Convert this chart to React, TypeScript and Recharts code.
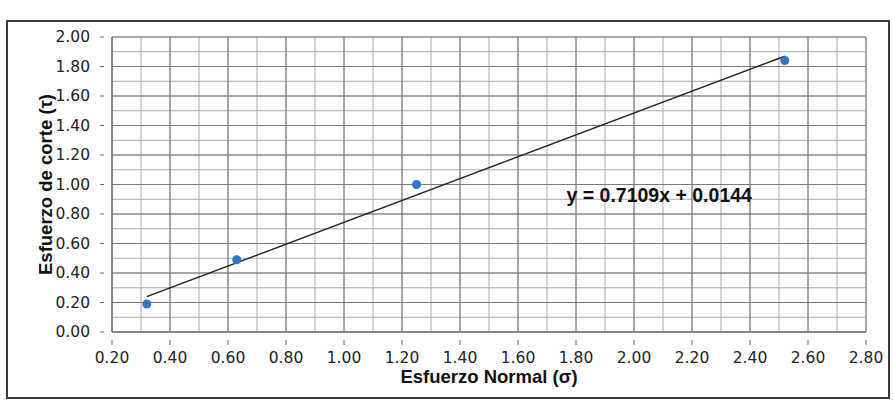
import {
  ScatterChart,
  Scatter,
  XAxis,
  YAxis,
  CartesianGrid,
  ReferenceDot,
  ReferenceLine,
  Label,
} from "recharts";

/* ---------- DATA ---------- */
const sigma = [0.32, 0.63, 1.25, 2.52];
const tau = [0.19, 0.49, 1.0, 1.84];

// trendline end points
const trendX = [0.32, 2.52];
const trendY = [0.24, 1.87];

const majorXTicks = [0.2, 0.4, 0.6, 0.8, 1.0, 1.2, 1.4, 1.6, 1.8, 2.0, 2.2, 2.4, 2.6, 2.8];
const minorXTicks = [
  0.2, 0.3, 0.4, 0.5, 0.6, 0.7, 0.8, 0.9, 1.0, 1.1, 1.2, 1.3, 1.4, 1.5, 1.6, 1.7, 1.8, 1.9,
  2.0, 2.1, 2.2, 2.3, 2.4, 2.5, 2.6, 2.7, 2.8,
];
const majorYTicks = [0, 0.2, 0.4, 0.6, 0.8, 1.0, 1.2, 1.4, 1.6, 1.8, 2.0];
const minorYTicks = [
  0, 0.1, 0.2, 0.3, 0.4, 0.5, 0.6, 0.7, 0.8, 0.9, 1.0, 1.1, 1.2, 1.3, 1.4, 1.5, 1.6, 1.7, 1.8,
  1.9, 2.0,
];

const equation = "y = 0.7109x + 0.0144";
const equationAt = { x: 1.75, y: 0.93 };

const points = sigma.map((x, i) => ({ x, y: tau[i] }));
const trend = trendX.map((x, i) => ({ x, y: trendY[i] }));

/* ---------- STYLES ---------- */
const TICK_FONT = "'DejaVu Sans', Verdana, sans-serif";
const TITLE = {
  fill: "#111",
  fontSize: 18.5,
  fontWeight: 700,
  fontFamily: "'Liberation Sans', Arial, sans-serif",
};

const isMajor = (v: number) => Math.round(v * 10) % 2 === 0;

function XTick({ x, y, payload }: any) {
  if (!isMajor(payload.value)) return null;
  return (
    <g>
      <line x1={x} x2={x} y1={y} y2={y + 5} stroke="#666" />
      <text x={x} y={y + 23} textAnchor="middle" fill="#222" fontSize={15.5} fontFamily={TICK_FONT}>
        {Number(payload.value).toFixed(2)}
      </text>
    </g>
  );
}

function YTick({ x, y, payload }: any) {
  if (!isMajor(payload.value)) return null;
  return (
    <g>
      <line x1={x - 4} x2={x} y1={y} y2={y} stroke="#666" />
      <text x={x - 14} y={y + 5} textAnchor="end" fill="#222" fontSize={15.5} fontFamily={TICK_FONT}>
        {Number(payload.value).toFixed(2)}
      </text>
    </g>
  );
}

export default function App() {
  return (
    <div style={{ position: "absolute", left: 0, top: 0, width: 893, height: 407, background: "#fff" }}>
      {/* frame of the scanned chart */}
      <div
        style={{
          position: "absolute",
          left: 6,
          top: 20,
          width: 880,
          height: 375,
          border: "2px solid #3a3a3a",
        }}
      />
      <div style={{ position: "absolute", left: 0, top: 0 }}>
        <ScatterChart
          width={893}
          height={407}
          margin={{ top: 37, right: 27, bottom: 15, left: 42 }}
        >
          <XAxis
            type="number"
            dataKey="x"
            domain={[0.2, 2.8]}
            ticks={minorXTicks}
            interval={0}
            tick={<XTick />}
            tickLine={false}
            height={60}
            stroke="#666"
            allowDataOverflow
          >
            <Label value="Esfuerzo Normal (σ)" position="insideBottom" offset={9} style={TITLE} />
          </XAxis>
          <YAxis
            type="number"
            dataKey="y"
            domain={[0, 2]}
            ticks={minorYTicks}
            interval={0}
            tick={<YTick />}
            tickLine={false}
            width={70}
            stroke="#666"
          >
            <Label
              value="Esfuerzo de corte (τ)"
              angle={-90}
              position="insideLeft"
              offset={3}
              style={{ ...TITLE, textAnchor: "middle" }}
            />
          </YAxis>

          {/* minor grid every 0.1 */}
          <CartesianGrid stroke="#ababab" strokeWidth={1} />

          {/* major grid every 0.2 */}
          {majorXTicks.map((v) => (
            <ReferenceLine key={`vx${v}`} x={v} stroke="#7a7a7a" strokeWidth={1} />
          ))}
          {majorYTicks.map((v) => (
            <ReferenceLine key={`hy${v}`} y={v} stroke="#7a7a7a" strokeWidth={1} />
          ))}

          {/* trendline */}
          <Scatter
            data={trend}
            line={{ stroke: "#222", strokeWidth: 1.5 }}
            shape={() => null}
            isAnimationActive={false}
          />

          {/* measured points */}
          <Scatter data={points} fill="#2f76c8" isAnimationActive={false} />

          <ReferenceDot
            x={equationAt.x}
            y={equationAt.y}
            r={0}
            fill="none"
            stroke="none"
            label={{ value: equation, position: "right", offset: 5, style: { ...TITLE, fontSize: 19.5 } }}
          />
        </ScatterChart>
      </div>
    </div>
  );
}
